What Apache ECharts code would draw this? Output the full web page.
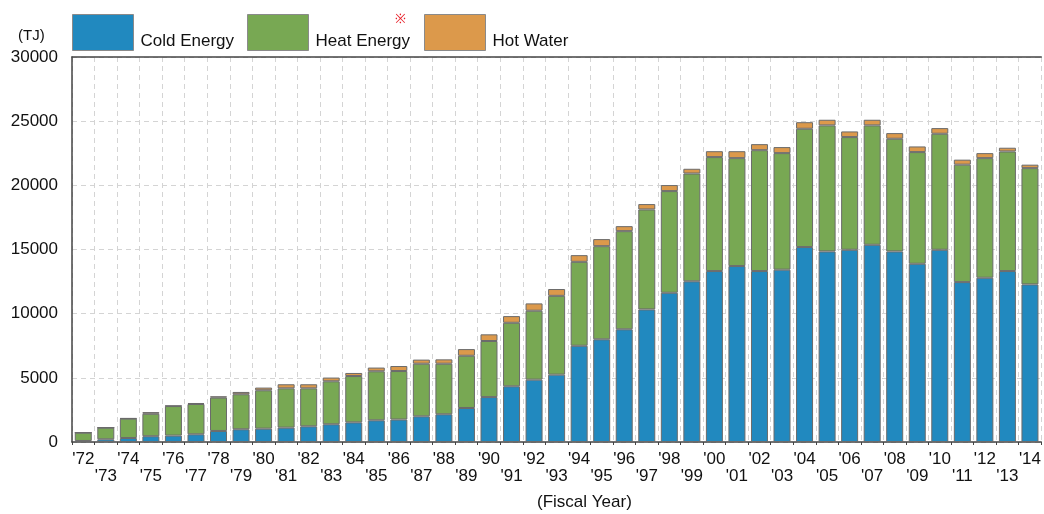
<!DOCTYPE html>
<html>
<head>
<meta charset="utf-8">
<script src="https://cdn.jsdelivr.net/npm/echarts@6/dist/echarts.min.js"></script>
<style>html,body{margin:0;padding:0;background:#fff;}#c{width:1044px;height:514px;}</style>
</head>
<body>
<div id="c"></div>
<script>
const years = ["'72","'73","'74","'75","'76","'77","'78","'79","'80","'81","'82","'83","'84","'85","'86","'87","'88","'89","'90","'91","'92","'93","'94","'95","'96","'97","'98","'99","'00","'01","'02","'03","'04","'05","'06","'07","'08","'09","'10","'11","'12","'13","'14"];
const coldEnergy = [80,210,310,450,500,600,860,990,1040,1120,1220,1380,1530,1690,1750,2000,2160,2650,3500,4340,4860,5250,7500,8000,8780,10330,11630,12520,13320,13710,13320,13430,15190,14850,14980,15370,14850,13890,14980,12460,12800,13320,12280];
const heatEnergy = [650,910,1510,1750,2300,2360,2600,2730,2990,3060,2960,3350,3610,3820,3780,4100,3940,4070,4370,4950,5370,6140,6540,7260,7650,7790,7920,8400,8880,8410,9420,9080,9220,9820,8780,9300,8780,8700,9040,9150,9320,9320,9060];
const hotWater = [0,0,30,130,30,80,100,180,210,320,320,290,240,290,390,320,340,520,520,520,570,530,520,550,390,420,470,370,460,540,470,470,510,440,440,440,440,440,440,390,390,290,270];
const yTicks = [0,5000,10000,15000,20000,25000,30000];

const FONT = '"Liberation Sans", Arial, sans-serif';
const border = {borderColor:'#6b6b6b', borderWidth:1};
const chart = echarts.init(document.getElementById('c'), null, {renderer:'canvas'});
function legendFor(name, left){
  return {
    data:[name], left:left, top:14, orient:'horizontal',
    itemWidth:61, itemHeight:36, icon:'rect', padding:0,
    itemStyle:{borderColor:'#8a8a8a', borderWidth:1},
    formatter: n => '{t|' + n + '}',
    textStyle:{fontFamily:FONT, fontSize:17, color:'#111',
      rich:{t:{fontFamily:FONT, fontSize:17, color:'#111', padding:[18,0,0,2]}}},
    selectedMode:false
  };
}
chart.setOption({
  animation:false,
  textStyle:{fontFamily:FONT},
  grid:{left:72, right:0, top:57, bottom:72, containLabel:false},
  legend:[legendFor('Cold Energy',72), legendFor('Heat Energy',247), legendFor('Hot Water',424)],
  graphic:[
    {type:'text', left:18, top:28, style:{text:'(TJ)', font:'15px '+FONT, fill:'#111'}},
    {type:'text', left:395, top:13, style:{text:'※', font:'13px '+FONT, fill:'#e8202a'}},
    {type:'text', left:537, top:494, style:{text:'(Fiscal Year)', font:'17px '+FONT, fill:'#111'}}
  ],
  xAxis:[{
    type:'category', data:years, boundaryGap:true,
    axisLine:{show:true, lineStyle:{color:'#444', width:1.5}},
    axisTick:{show:true, length:3, lineStyle:{color:'#444'}},
    splitLine:{show:true, lineStyle:{color:'#d4d4d4', type:[5,4], width:1}},
    axisLabel:{interval:0, hideOverlap:false, margin:9, fontSize:17, color:'#111', lineHeight:17, verticalAlign:'top',
      formatter:(v,i)=> (i%2===1 ? '\n'+v : v)}
  },{
    type:'category', data:years, position:'top',
    axisLine:{show:true, lineStyle:{color:'#444', width:1.5}},
    axisTick:{show:false}, axisLabel:{show:false}, splitLine:{show:false}
  }],
  yAxis:{
    type:'value', min:yTicks[0], max:yTicks[yTicks.length-1], interval:5000,
    axisLine:{show:true, lineStyle:{color:'#444', width:1.5}},
    axisTick:{show:false},
    splitLine:{show:true, lineStyle:{color:'#d4d4d4', type:[5,4], width:1}},
    axisLabel:{fontSize:17, color:'#111', margin:14, formatter: v => String(v)}
  },
  series:[
    {name:'Cold Energy', type:'bar', stack:'t', data:coldEnergy, barWidth:17, itemStyle:Object.assign({color:'#2189bf'},border)},
    {name:'Heat Energy', type:'bar', stack:'t', data:heatEnergy, barWidth:17, itemStyle:Object.assign({color:'#78a853'},border)},
    {name:'Hot Water', type:'bar', stack:'t', data:hotWater, barWidth:17, itemStyle:Object.assign({color:'#dc994b'},border)}
  ]
});
</script>
</body>
</html>
